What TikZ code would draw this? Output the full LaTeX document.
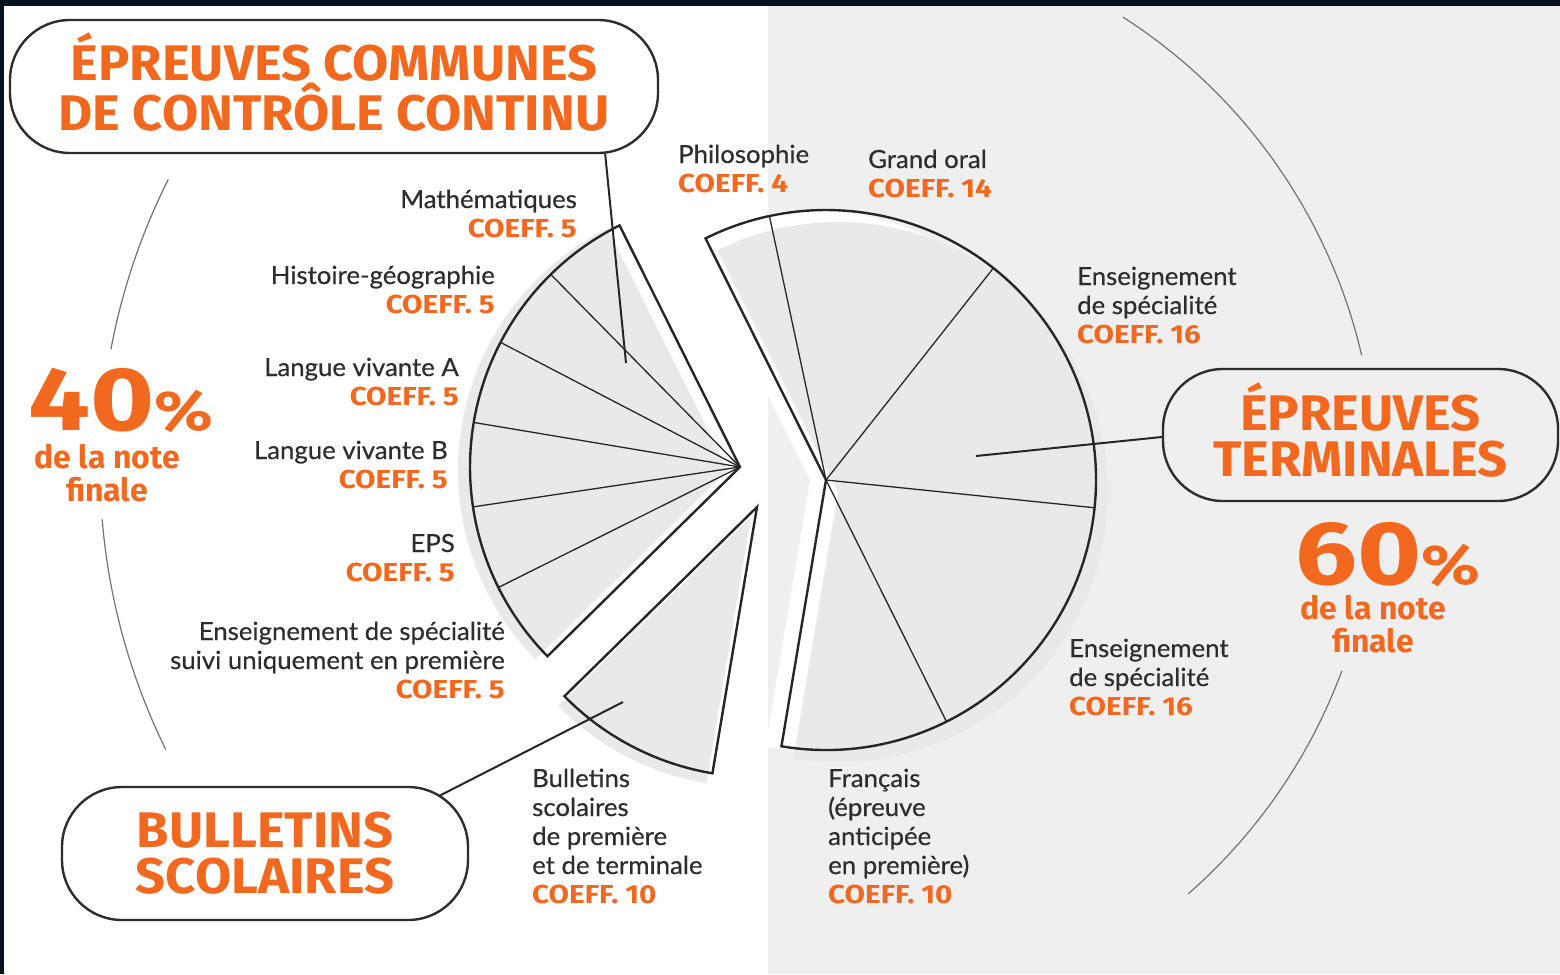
\documentclass[tikz,border=0pt]{standalone}
\usepackage{fontspec}
\setmainfont{Lato}[FakeStretch=1.03,FakeBold=0.5]
\newfontfamily\hfont{Fira Sans}[FakeStretch=1.05]
\newfontfamily\cfont{Fira Sans}[FakeStretch=1.14]
\newfontfamily\sfont{Fira Sans}[FakeStretch=1.0]
\newfontfamily\pfont{Fira Sans}[FakeStretch=1.22]
\usetikzlibrary{calc}
\definecolor{org}{RGB}{242,104,30}
\definecolor{txt}{RGB}{45,45,45}
\definecolor{pan}{RGB}{239,239,239}
\definecolor{fillg}{RGB}{233,233,233}
\definecolor{navy}{RGB}{3,17,29}
\newcommand\cf[1]{{\cfont\bfseries\color{org}\fontsize{26}{29}\selectfont COEFF. #1}}
\tikzset{
  lab/.style={text=txt, font=\fontsize{25}{29}\selectfont, inner sep=0pt},
  labr/.style={lab, align=right, anchor=base east},
  labl/.style={lab, align=left, anchor=base west},
  bigbox/.style={draw=txt, line width=2.4pt, rounded corners=60pt, inner sep=0pt, text=org,
    font=\hfont\bfseries\fontsize{50}{46}\selectfont, align=center},
  outl/.style={draw=black!85, line width=2.4pt, line join=miter},
  divl/.style={draw=black!85, line width=1.3pt},
  conn/.style={draw=black!85, line width=2pt},
  thinarc/.style={draw=black!55, line width=1.2pt},
  pct/.style={text=org, inner sep=0pt, anchor=base, font=\pfont\bfseries\fontsize{90}{90}\selectfont},
  pctsub/.style={text=org, inner sep=0pt, anchor=base, align=center, font=\sfont\bfseries\fontsize{32}{33}\selectfont},
}
\begin{document}
\begin{tikzpicture}[x=1pt,y=1pt]
\useasboundingbox (0,0) rectangle (1560,-974);
% backgrounds
\fill[white] (0,0) rectangle (1560,-974);
\fill[pan] (768,0) rectangle (1560,-974);
\fill[navy] (0,0) rectangle (1560,-6);
\fill[navy] (0,0) rectangle (4,-974);
% outer thin arcs
\coordinate (cL) at (740,-467);
\coordinate (cR) at (826,-480);
\draw[thinarc] (740,-467) ++(153.3:640) arc[start angle=153.3,end angle=169.4,radius=640];
\draw[thinarc] (740,-467) ++(184.7:640) arc[start angle=184.7,end angle=206.2,radius=640];
\draw[thinarc] (826,-480) ++(57.3:550) arc[start angle=57.3,end angle=13.1,radius=550];
\draw[thinarc] (826,-480) ++(-20.3:550) arc[start angle=-20.3,end angle=-48.8,radius=550];
% white halo of right fan
\fill[white] (810,-480) -- ++(-99.5:270) arc[start angle=-99.5,end angle=116.5,radius=270] -- cycle;
% grey fills (offset)
\fill[fillg] (728,-470) -- ++(116.5:270) arc[start angle=116.5,end angle=224.5,radius=270] -- cycle;
\fill[fillg] (751,-517) -- ++(224.5:270) arc[start angle=224.5,end angle=260.5,radius=270] -- cycle;
\fill[fillg] (838,-492) -- ++(-99.5:270) arc[start angle=-99.5,end angle=116.5,radius=270] -- cycle;
% left fan
\draw[outl] (cL) -- ++(116.5:270) arc[start angle=116.5,end angle=224.5,radius=270] -- cycle;
\foreach \a in {134.5,152.5,170.5,188.5,206.5} \draw[divl] (cL) -- ++(\a:270);
% bulletins wedge
\coordinate (cB) at (757,-507);
\draw[outl] (cB) -- ++(224.5:270) arc[start angle=224.5,end angle=260.5,radius=270] -- cycle;
% right fan
\draw[outl] (cR) -- ++(-99.5:270) arc[start angle=-99.5,end angle=116.5,radius=270] -- cycle;
\foreach \a in {-63.5,-5.9,51.7,102.1} \draw[divl] (cR) -- ++(\a:270);
% boxes
\node[bigbox, minimum width=648pt, minimum height=133pt, text depth=10pt] (ecc) at (334,-86.5) {ÉPREUVES COMMUNES\\DE CONTRÔLE CONTINU};
\node[bigbox, minimum width=406pt, minimum height=133pt] (bul) at (265,-853.5) {BULLETINS\\SCOLAIRES};
\node[bigbox, minimum width=395pt, minimum height=132pt, text depth=10pt] (ter) at (1360.5,-435) {ÉPREUVES\\TERMINALES};
% connectors
\coordinate (p1) at (626,-363);
\coordinate (p2) at (623,-702);
\coordinate (p3) at (976,-456);
\coordinate (b2) at (439,-796);
\draw[conn] ($(ecc.south east)+(-54,0)$) -- (p1);
\draw[conn] (b2) -- (p2);
\draw[conn] ($(ter.west)+(0,-2)$) -- (p3);
% percentages
\node[pct] (n40) at (121,-430) {40{\fontsize{56}{56}\selectfont\%}};
\node[pctsub] (s40) at (107,-501) {de la note\\finale};
\node[pct] (n60) at (1388,-584) {60{\fontsize{56}{56}\selectfont\%}};
\node[pctsub] (s60) at (1373,-652) {de la note\\finale};
% labels left
\node[labr] (lmath) at (577,-237) {Mathématiques\\\cf{5}};
\node[labr] (lhist) at (495,-313) {Histoire-géographie\\\cf{5}};
\node[labr] (llva) at (459,-405) {Langue vivante A\\\cf{5}};
\node[labr] (llvb) at (448,-488) {Langue vivante B\\\cf{5}};
\node[labr] (leps) at (455,-581) {EPS\\\cf{5}};
\node[labr] (lspe1) at (505,-698) {Enseignement de spécialité\\suivi uniquement en première\\\cf{5}};
% labels right
\node[labl] (lphi) at (678,-192) {Philosophie\\\cf{4}};
\node[labl] (loral) at (868,-197) {Grand oral\\\cf{14}};
\node[labl] (lspe2) at (1077,-343) {Enseignement\\de spécialité\\\cf{16}};
\node[labl] (lspe3) at (1069,-715) {Enseignement\\de spécialité\\\cf{16}};
\node[labl] (lbul) at (532,-903) {Bulletins\\scolaires\\de première\\et de terminale\\\cf{10}};
\node[labl] (lfr) at (828,-903) {Français\\(épreuve\\anticipée\\en première)\\\cf{10}};
\end{tikzpicture}
\end{document}
